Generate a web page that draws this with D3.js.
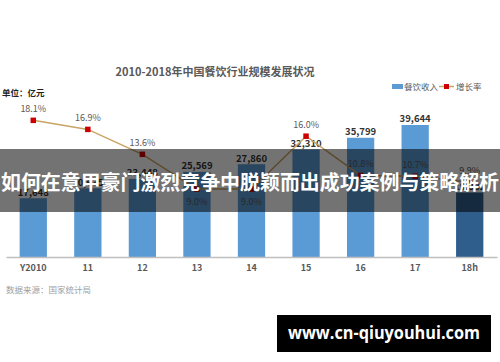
<!DOCTYPE html>
<html><head><meta charset="utf-8">
<script src="https://cdn.jsdelivr.net/npm/d3@7"></script>
<style>html,body{margin:0;padding:0;background:#fff;}svg{display:block;}</style>
</head><body>
<script>
const categories = ["Y2010","11","12","13","14","15","16","17","18h"];
const revenue = [17648, 20635, 23448, 25569, 27860, 32310, 35799, 39644, 19382];
const growth = [18.1, 16.9, 13.6, 9.0, 9.0, 16.0, 10.8, 10.7, 9.9];
const growthLabelBelow = [false, false, false, true, true, false, false, false, false];
const title = "2010-2018年中国餐饮行业规模发展状况";
const unitLabel = "单位：亿元";
const sourceLabel = "数据来源：国家统计局";
const legendLabels = ["餐饮收入", "增长率"];
const overlayText = "如何在意甲豪门激烈竞争中脱颖而出成功案例与策略解析";
const watermark = "www.cn-qiuyouhui.com";

const W = 500, H = 362;
const font = "'Noto Sans CJK SC','Noto Sans',sans-serif";
const svg = d3.select("body").append("svg").attr("width", W).attr("height", H);
svg.append("rect").attr("width", W).attr("height", H).attr("fill", "#fff");

const x = d3.scaleBand().domain(categories).range([6, 497]).paddingInner(0.5).paddingOuter(0.25);
const y = d3.scaleLinear().domain([0, 40000]).range([257, 123.8]);
const yp = d3.scaleLinear().domain([0, 20]).range([257, 106]);

// title
svg.append("text").attr("x", 215).attr("y", 76).attr("text-anchor", "middle")
  .attr("font-family", font).attr("font-weight", "bold").attr("font-size", 11)
  .attr("fill", "#595959").text(title);
svg.append("text").attr("x", 2).attr("y", 96).attr("font-family", font)
  .attr("font-weight", "bold").attr("font-size", 8.5).attr("fill", "#222").text(unitLabel);

// legend
svg.append("rect").attr("x", 392).attr("y", 84).attr("width", 11).attr("height", 5).attr("fill", "#5b9bd5");
svg.append("text").attr("x", 404).attr("y", 89.5).attr("font-family", font).attr("font-size", 8.5)
  .attr("fill", "#595959").text(legendLabels[0]);
svg.append("line").attr("x1", 439).attr("x2", 454).attr("y1", 86.5).attr("y2", 86.5)
  .attr("stroke", "#c9a465").attr("stroke-width", 1.5);
svg.append("rect").attr("x", 444).attr("y", 84).attr("width", 5).attr("height", 5).attr("fill", "#cc0000");
svg.append("text").attr("x", 456).attr("y", 89.5).attr("font-family", font).attr("font-size", 8.5)
  .attr("fill", "#595959").text(legendLabels[1]);

// bars
svg.selectAll("rect.bar").data(categories).join("rect").attr("class", "bar")
  .attr("x", d => x(d)).attr("width", x.bandwidth())
  .attr("y", (d, i) => y(revenue[i])).attr("height", (d, i) => y(0) - y(revenue[i]))
  .attr("fill", (d, i) => i === categories.length - 1 ? "#2f5d8c" : "#5b9bd5");

// axis
const axis = svg.append("g").attr("transform", "translate(0,257)")
  .call(d3.axisBottom(x).tickSize(0).tickPadding(8));
axis.select(".domain").attr("stroke", "#bfbfbf").attr("stroke-width", 1.5);
axis.selectAll("text").attr("font-family", font).attr("font-weight", "bold")
  .attr("font-size", 9).attr("fill", "#595959");

// value labels
svg.selectAll("text.val").data(categories).join("text").attr("class", "val")
  .attr("x", d => x(d) + x.bandwidth() / 2).attr("y", (d, i) => y(revenue[i]) - 2.5)
  .attr("text-anchor", "middle").attr("font-family", font).attr("font-weight", "bold")
  .attr("font-size", 9.5).attr("fill", "#333").text((d, i) => d3.format(",")(revenue[i]));

// line
const line = d3.line().x((d, i) => x(categories[i]) + x.bandwidth() / 2).y(d => yp(d));
svg.append("path").datum(growth).attr("d", line).attr("fill", "none")
  .attr("stroke", "#c9a465").attr("stroke-width", 1.5);
svg.selectAll("rect.mk").data(growth).join("rect").attr("class", "mk")
  .attr("x", (d, i) => x(categories[i]) + x.bandwidth() / 2 - 2.75).attr("y", d => yp(d) - 2.75)
  .attr("width", 5.5).attr("height", 5.5).attr("fill", "#cc0000");
svg.selectAll("text.pct").data(growth).join("text").attr("class", "pct")
  .attr("x", (d, i) => x(categories[i]) + x.bandwidth() / 2)
  .attr("y", (d, i) => growthLabelBelow[i] ? yp(d) + 16 : yp(d) - 8)
  .attr("text-anchor", "middle").attr("font-family", font).attr("font-size", 9)
  .attr("fill", "#595959").text(d => d.toFixed(1) + "%");

// source
svg.append("text").attr("x", 6).attr("y", 293).attr("font-family", font).attr("font-size", 8.5)
  .attr("fill", "#a0a0a0").text(sourceLabel);

// overlay band
svg.append("rect").attr("x", 0).attr("y", 149).attr("width", W).attr("height", 63)
  .attr("fill", "rgba(0,0,0,0.55)");
svg.append("text").attr("x", 250).attr("y", 190).attr("text-anchor", "middle")
  .attr("font-family", font).attr("font-weight", "bold").attr("font-size", 20)
  .attr("textLength", 498).attr("lengthAdjust", "spacingAndGlyphs")
  .attr("fill", "#fff").text(overlayText);

// watermark
svg.append("rect").attr("x", 277).attr("y", 315).attr("width", 214).attr("height", 37).attr("fill", "#000");
svg.append("text").attr("x", 384).attr("y", 339).attr("text-anchor", "middle")
  .attr("font-family", "'Open Sans','DejaVu Sans',sans-serif").attr("font-weight", "bold").attr("font-size", 17)
  .attr("textLength", 192).attr("lengthAdjust", "spacingAndGlyphs")
  .attr("fill", "#fff").text(watermark);
</script>
</body></html>
